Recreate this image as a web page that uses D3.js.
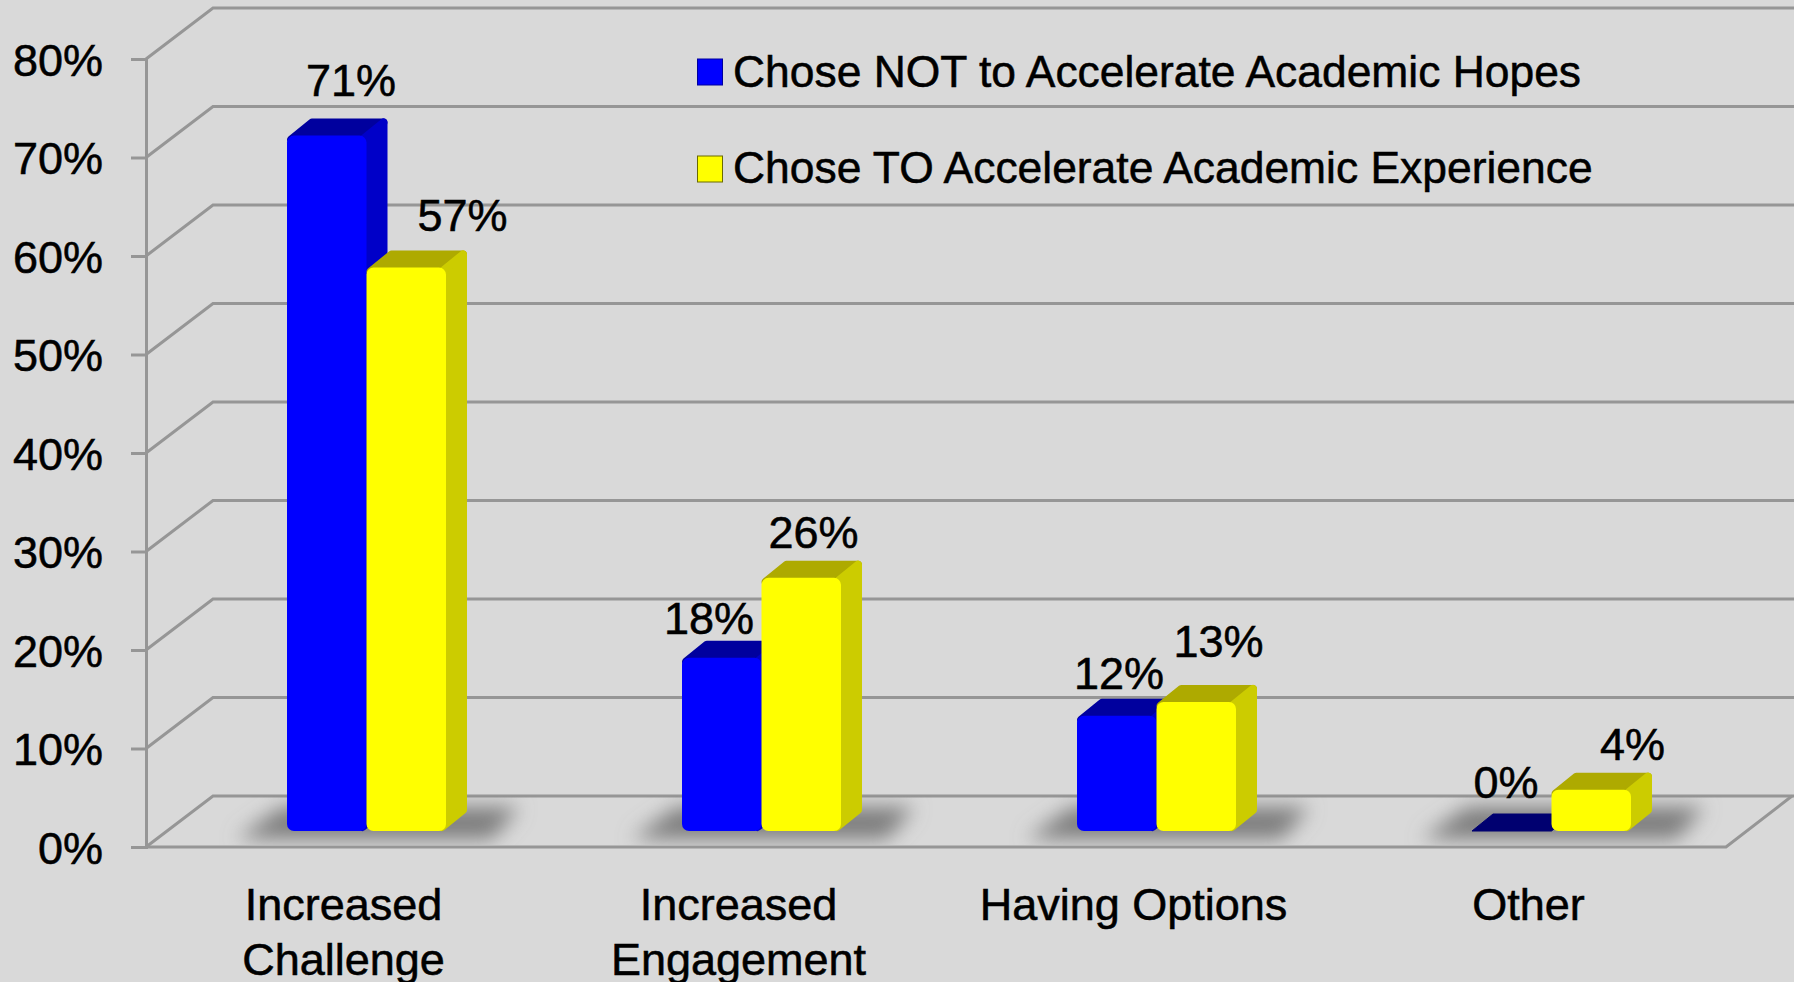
<!DOCTYPE html>
<html><head><meta charset="utf-8">
<script src="https://cdn.jsdelivr.net/npm/d3@7"></script>
<style>
html,body{margin:0;padding:0;background:#d9d9d9;overflow:hidden}
text{font-family:"Liberation Sans",Arial,sans-serif;fill:#000;stroke:#000;stroke-width:.55px}
</style></head><body>
<svg id="c" width="1794" height="982"></svg>
<script>
const categories = [["Increased","Challenge"],["Increased","Engagement"],["Having Options"],["Other"]];
const seriesNames = ["Chose NOT to Accelerate Academic Hopes","Chose TO Accelerate Academic Experience"];
const choseNot = [70.6, 17.6, 11.7, 0];
const choseTo = [57.2, 25.7, 13.1, 4.2];
const yTicks = [0,10,20,30,40,50,60,70,80];

const W=1794,H=982;
const svg=d3.select("#c");
const defs=svg.append("defs");
const blur=defs.append("filter").attr("id","blur").attr("x","-30%").attr("y","-80%").attr("width","160%").attr("height","260%");
blur.append("feGaussianBlur").attr("stdDeviation",10);

const y=d3.scaleLinear().domain([0,80]).range([847,59]);
const x0=d3.scaleBand().domain(d3.range(categories.length)).range([146,1726]);
const wallDx=67, wallDy=-51;       // depth of the chart box
const depthDx=21, depthDy=-17;     // depth of a bar
const barInset=141, barW=79.5, floorLift=16;
const grid="#969696";

// walls and floor
const g=svg.append("g").attr("fill","none").attr("stroke",grid).attr("stroke-width",3);
yTicks.forEach(t=>{
  const yy=y(t);
  g.append("path").attr("d",`M${146},${yy}L${146+wallDx},${yy+wallDy}L${W},${yy+wallDy}`);
});
g.append("path").attr("d",`M146,${y(0)}L1726,${y(0)}L${1726+wallDx-1},${y(0)+wallDy}`);

// y axis through d3
const axis=svg.append("g").attr("transform","translate(146,0)")
  .call(d3.axisLeft(y).tickValues(yTicks).tickSize(15).tickPadding(28).tickFormat(d=>d+"%"));
axis.selectAll("path,line").attr("stroke",grid).attr("stroke-width",3);
axis.selectAll("text").attr("font-size",45).attr("dy",16).attr("fill","#000");

// shadows, clipped to the floor so they stop at the front edge
const base=y(0)-floorLift;
defs.append("clipPath").attr("id","floor").append("rect")
  .attr("x",146).attr("y",y(0)+wallDy).attr("width",W-146).attr("height",-wallDy-2);
const shadows=svg.append("g").attr("clip-path","url(#floor)");
categories.forEach((c,i)=>{
  const l=x0(i)+barInset;
  const pts=[[l-50,base+8],[l-5,base-24],[l+232,base-24],[l+205,base+8]];
  shadows.append("polygon").attr("points",pts.join(" ")).attr("fill","#7d7d7d").attr("filter","url(#blur)");
});

const styles=[
  {front:"#0000ff",side:"#0000c8",top:"#00009e",flat:"#000070",edge:"#00009e"},
  {front:"#ffff00",side:"#cccc00",top:"#aeaa00",flat:"#aeaa00",edge:"#6b6b00"}
];
function bar(px,v,st){
  const top=y(v)-floorLift;
  const gg=svg.append("g");
  if(v===0){
    gg.append("path").attr("d",`M${px},${base}L${px+depthDx},${base+depthDy}L${px+barW+depthDx},${base+depthDy}L${px+barW},${base}Z`)
      .attr("fill",st.flat).attr("stroke",st.flat).attr("stroke-linejoin","round").attr("stroke-width",1);
    return;
  }
  const r=4;
  const poly=(d,fill)=>gg.append("path").attr("d",d).attr("fill",fill).attr("stroke",fill)
      .attr("stroke-width",r*2).attr("stroke-linejoin","round");
  poly(`M${px+r},${top+r}L${px+depthDx+r},${top+depthDy+r}L${px+barW+depthDx-r},${top+depthDy+r}L${px+barW-r},${top+r}Z`,st.top);
  poly(`M${px+barW-r},${top+r}L${px+barW+depthDx-r},${top+depthDy+r}L${px+barW+depthDx-r},${base+depthDy-r}L${px+barW-r},${base-r}Z`,st.side);
  gg.append("rect").attr("x",px).attr("y",top).attr("width",barW).attr("height",base-top)
    .attr("rx",7).attr("fill",st.front);
}
categories.forEach((c,i)=>{
  const l=x0(i)+barInset;
  bar(l,choseNot[i],styles[0]);
  bar(l+barW,choseTo[i],styles[1]);
});

// value labels (hand-placed in the original)
const fmt=d=>Math.round(d)+"%";
const labelNudge=[[[64,-40],[95,-37]],[[27,-24],[51,-30]],[[42,-27],[61,-45]],[[34,-33],[80,-30]]];
categories.forEach((c,i)=>{
  const l=x0(i)+barInset;
  [choseNot[i],choseTo[i]].forEach((v,s)=>{
    const [dx,dy]=labelNudge[i][s];
    svg.append("text").attr("x",l+s*(barW+1)+dx).attr("y",y(v)-floorLift+dy)
      .attr("text-anchor","middle").attr("font-size",45).text(fmt(v));
  });
});

// category labels
categories.forEach((c,i)=>{
  c.forEach((t,k)=>{
    svg.append("text").attr("x",x0(i)+x0.bandwidth()/2).attr("y",920+k*55)
      .attr("text-anchor","middle").attr("font-size",45).text(t);
  });
});

// legend
seriesNames.forEach((n,i)=>{
  const ly=[59,156][i];
  svg.append("rect").attr("x",697.5).attr("y",ly).attr("width",25).attr("height",26)
    .attr("fill",styles[i].front).attr("stroke",styles[i].edge).attr("stroke-width",1);
  svg.append("text").attr("transform",`translate(733,${[87,183][i]}) scale(.987,1)`).attr("font-size",45).text(n);
});
</script></body></html>
